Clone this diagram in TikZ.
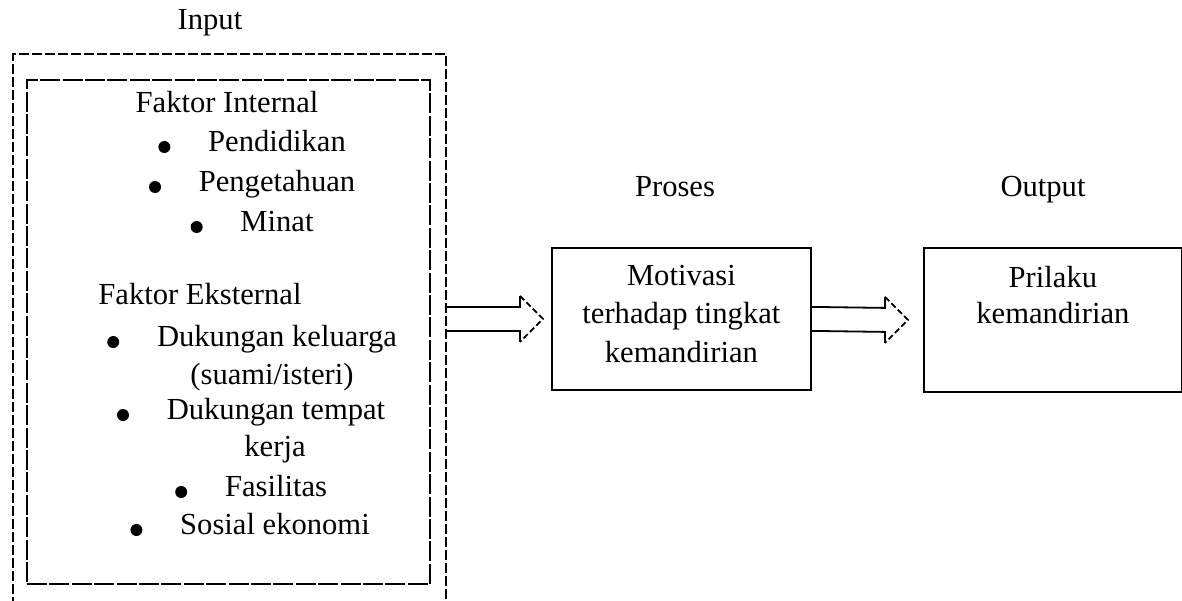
\documentclass[tikz,border=0pt]{standalone}
\usepackage{fontspec}
\setmainfont{Liberation Serif}
\usetikzlibrary{positioning,calc}
% hollow block arrow from #1 to the tip #2
\newcommand{\fatarrow}[2]{%
  \draw[shaft] ($(#1)+(0,-12)$) -- ($(#2)+(-23,-12)$) -- ($(#2)+(-23,-23)$);
  \draw[head] ($(#2)+(-23,-23)$) -- (#2) -- ($(#2)+(-23,23)$);
  \draw[shaft] ($(#2)+(-23,23)$) -- ($(#2)+(-23,12)$) -- ($(#1)+(0,12)$);}
\tikzset{
  txt/.style={inner sep=2pt, text height=0.68em, text depth=0.2em},
  dot/.style={circle, fill=black, inner sep=0pt, minimum size=6pt},
  shaft/.style={line width=0.9pt},
  head/.style={line width=0.9pt, dash pattern=on 3pt off 1.5pt},
  boxx/.style={draw, line width=0.9pt, align=center, anchor=north west}
}
\begin{document}
\begin{tikzpicture}[x=0.5pt, y=-0.5pt, font=\fontsize{15.3}{19.2}\selectfont]
\useasboundingbox (0,0) rectangle (1182,600);
\clip (0,0) rectangle (1182,600);
% Input
\node[txt] (inlbl) at (210,25) {Input};
\node[draw, line width=0.9pt, dash pattern=on 5pt off 1.5pt, anchor=north west,
  minimum width=216.5pt, minimum height=290pt] (inbox) at (12,53) {};
\node[draw, line width=0.9pt, dash pattern=on 10pt off 1.2pt, anchor=north west,
  minimum width=201.5pt, minimum height=252pt] (faktor) at (26,79) {};
% internal
\node[txt] (fint) at (227,108) {Faktor Internal};
\node[txt] (pend) at (277,147) {Pendidikan};
\node[txt] (peng) at (277,187) {Pengetahuan};
\node[txt] (minat) at (277,227) {Minat};
\node[dot, left=16.5pt of pend] (dpend) {};
\node[dot, left=16.5pt of peng] (dpeng) {};
\node[dot, left=16.5pt of minat] (dminat) {};
% eksternal
\node[txt] (feks) at (200,300) {Faktor Eksternal};
\node[txt] (duk1) at (277,342) {Dukungan keluarga};
\node[txt] (suami) at (272,380) {(suami/isteri)};
\node[txt] (duk2) at (276,415) {Dukungan tempat};
\node[txt] (kerja) at (275,452) {kerja};
\node[txt] (fas) at (276,492) {Fasilitas};
\node[txt] (sos) at (275,530) {Sosial ekonomi};
\node[dot, left=16.5pt of duk1] (dduk1) {};
\node[dot, left=16.5pt of duk2] (dduk2) {};
\node[dot, left=16.5pt of fas] (dfas) {};
\node[dot, left=16.5pt of sos] (dsos) {};
% Proses
\node[txt] (proslbl) at (675,192) {Proses};
\node[boxx, minimum width=129.5pt, minimum height=71pt] (mot) at (551,247)
  {Motivasi\\terhadap tingkat\\kemandirian\\[-14pt]\mbox{}};
% Output
\node[txt] (outlbl) at (1043,192) {Output};
\node[boxx, minimum width=129pt, minimum height=72pt] (out) at (923,247)
  {Prilaku\\[-1pt]kemandirian\\[6pt]\mbox{}};
% arrows
\coordinate (a1) at (inbox.east |- mot.west);
\coordinate (t1) at ($(mot.west)+(-8,0)$);
\coordinate (t2) at ($(out.west)+(-15,0)$);
\fatarrow{a1}{t1}
\fatarrow{mot.east}{t2}
\end{tikzpicture}
\end{document}
